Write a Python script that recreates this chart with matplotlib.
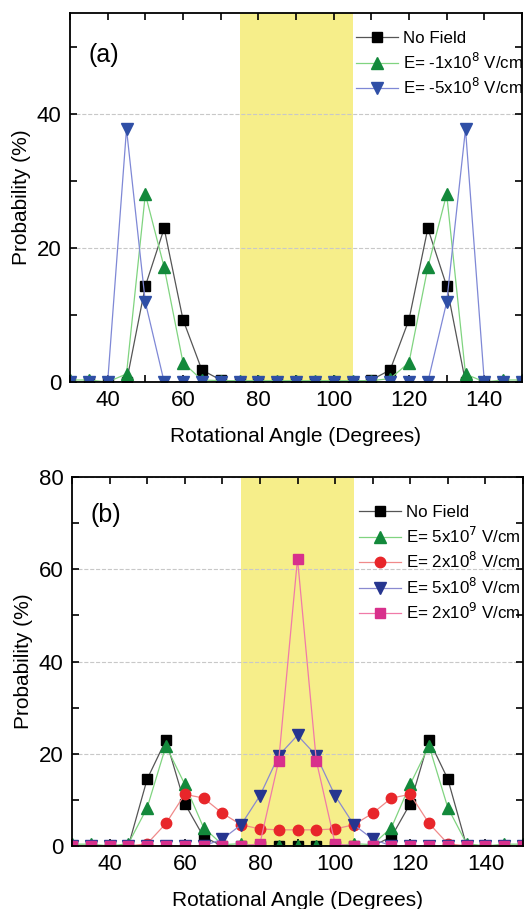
import matplotlib
matplotlib.use('Agg')
import matplotlib.pyplot as plt
from matplotlib.ticker import MultipleLocator

plt.rcParams['font.family'] = ['Liberation Sans', 'DejaVu Sans']

angles = list(range(30, 155, 5))

# Panel (a)
a_no_field = [0, 0, 0, 0, 14.3, 22.9, 9.3, 1.8, 0.3, 0, 0, 0, 0, 0, 0, 0,
              0.3, 1.8, 9.3, 22.9, 14.3, 0, 0, 0, 0]
a_e_m1e8 = [0.3, 0.3, 0, 1.2, 28.0, 17.1, 2.9, 0.3, 0.2, 0.2, 0.2, 0.2, 0.2, 0.2, 0.2, 0.2,
            0.2, 0.5, 2.9, 17.1, 28.0, 1.2, 0, 0.3, 0.3]
a_e_m5e8 = [0, 0, 0, 37.7, 11.9, 0, 0, 0, 0, 0, 0, 0, 0, 0, 0, 0,
            0, 0, 0, 0, 11.9, 37.7, 0, 0, 0]

# Panel (b)
b_no_field = [0, 0, 0, 0, 14.5, 23.0, 9.2, 2.0, 0, 0, 0, 0, 0, 0, 0, 0,
              0, 2.0, 9.2, 23.0, 14.5, 0, 0, 0, 0]
b_e_5e7 = [0.4, 0.4, 0, 0.5, 8.3, 21.7, 13.4, 4.0, 0.3, 0.5, 0, 0, 0, 0, 0, 0.5,
           0.3, 4.0, 13.4, 21.7, 8.3, 0.5, 0, 0.4, 0.4]
b_e_2e8 = [0, 0, 0, 0, 0.5, 4.9, 11.2, 10.4, 7.1, 4.6, 3.7, 3.5, 3.5, 3.5, 3.7, 4.6,
           7.1, 10.4, 11.2, 4.9, 0.5, 0, 0, 0, 0]
b_e_5e8 = [0, 0, 0, 0, 0, 0, 0, 0, 1.5, 4.6, 10.9, 19.6, 24.0, 19.6, 10.9, 4.6,
           1.5, 0, 0, 0, 0, 0, 0, 0, 0]
b_e_2e9 = [0, 0, 0, 0, 0, 0, 0, 0, 0, 0, 0.5, 18.5, 62.3, 18.5, 0.5, 0,
           0, 0, 0, 0, 0, 0, 0, 0, 0]

labels_a = ['No Field', r'E= -1x10$^{8}$ V/cm', r'E= -5x10$^{8}$ V/cm']
labels_b = ['No Field', r'E= 5x10$^{7}$ V/cm', r'E= 2x10$^{8}$ V/cm',
            r'E= 5x10$^{8}$ V/cm', r'E= 2x10$^{9}$ V/cm']

BAND_COLOR = '#f6ee8a'


def style_axes(ax, ymax, xpad):
    ax.set_xlim(30, 150)
    ax.set_ylim(0, ymax)
    ax.axvspan(75, 105, color=BAND_COLOR, zorder=0.3, lw=0)
    ax.xaxis.set_major_locator(MultipleLocator(20))
    ax.xaxis.set_minor_locator(MultipleLocator(10))
    ax.yaxis.set_major_locator(MultipleLocator(20))
    ax.yaxis.set_minor_locator(MultipleLocator(10))
    ax.tick_params(which='both', direction='in', top=True, right=True,
                   length=5, width=1.2, labelsize=16, pad=6)
    ax.set_axisbelow(True)
    ax.yaxis.grid(True, which='major', color='#c8c8c8', ls='--', lw=0.8)
    for s in ax.spines.values():
        s.set_linewidth(1.3)
    ax.set_xlabel('Rotational Angle (Degrees)', fontsize=15, labelpad=xpad)
    ax.set_ylabel('Probability (%)', fontsize=15, labelpad=4)


fig = plt.figure(figsize=(5.28, 9.09), dpi=100)
ax1 = fig.add_axes([70 / 528, 1 - 382 / 909, 452 / 528, 369 / 909])
ax2 = fig.add_axes([72 / 528, 1 - 846 / 909, 451 / 528, 369 / 909])

style_axes(ax1, 55, 11)
style_axes(ax2, 80, 11)

kw = dict(lw=0.9, clip_on=True)
ax1.plot(angles, a_no_field, color='#555555', marker='s', ms=6.5, mfc='black', mec='black', label=labels_a[0], **kw)
ax1.plot(angles, a_e_m1e8, color='#80d480', marker='^', ms=8.5, mfc='#13893b', mec='#13893b', label=labels_a[1], **kw)
ax1.plot(angles, a_e_m5e8, color='#7f88d6', marker='v', ms=8.5, mfc='#2f4fa6', mec='#2f4fa6', label=labels_a[2], **kw)

ax2.plot(angles, b_no_field, color='#555555', marker='s', ms=6.5, mfc='black', mec='black', label=labels_b[0], **kw)
ax2.plot(angles, b_e_5e7, color='#80d480', marker='^', ms=8.5, mfc='#13893b', mec='#13893b', label=labels_b[1], **kw)
ax2.plot(angles, b_e_2e8, color='#f08a8a', marker='o', ms=7.5, mfc='#e8262a', mec='#e8262a', label=labels_b[2], **kw)
ax2.plot(angles, b_e_5e8, color='#8a8ad0', marker='v', ms=8.5, mfc='#26358f', mec='#26358f', label=labels_b[3], **kw)
ax2.plot(angles, b_e_2e9, color='#f07aa8', marker='s', ms=6.5, mfc='#d8308c', mec='#d8308c', label=labels_b[4], **kw)

ax1.text(0.04, 0.886, '(a)', transform=ax1.transAxes, fontsize=18, va='center', ha='left')
ax2.text(0.04, 0.897, '(b)', transform=ax2.transAxes, fontsize=18, va='center', ha='left')
ax1.legend(loc='upper left', bbox_to_anchor=(0.632, 0.951), frameon=False,
           fontsize=12.2, handlelength=2.5, handletextpad=0.3,
           borderaxespad=0, labelspacing=0.32, borderpad=0)
ax2.legend(loc='upper left', bbox_to_anchor=(0.636, 0.924), frameon=False,
           fontsize=12.2, handlelength=2.5, handletextpad=0.3,
           borderaxespad=0, labelspacing=0.32, borderpad=0)

fig.savefig('out.png', dpi=100)
